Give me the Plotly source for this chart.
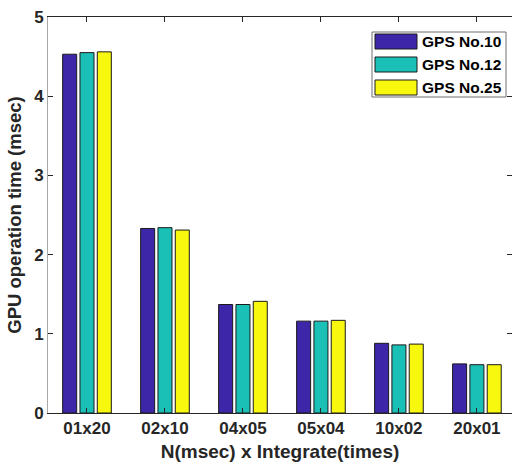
import plotly.graph_objects as go

categories = ["01x20", "02x10", "04x05", "05x04", "10x02", "20x01"]
series_names = ["GPS No.10", "GPS No.12", "GPS No.25"]
gps10 = [4.53, 2.33, 1.37, 1.16, 0.88, 0.62]
gps12 = [4.55, 2.34, 1.37, 1.16, 0.86, 0.61]
gps25 = [4.56, 2.31, 1.41, 1.17, 0.87, 0.61]
y_ticks = [0, 1, 2, 3, 4, 5]
colors = ["#3E26A8", "#1ABFB6", "#F8F80E"]

W, H = 512, 468
L, R, T, B = 48, 0, 17, 55
pw, ph = W - L - R, H - T - B

def px_x(px):
    return (px - L) / pw

def px_y(py):
    return (H - B - py) / ph

FONT = "Liberation Sans, Arial, sans-serif"
TXT = "#262626"

fig = go.Figure()
for name, vals, c in zip(series_names, [gps10, gps12, gps25], colors):
    fig.add_trace(go.Bar(
        x=categories, y=vals, name=name,
        marker=dict(color=c, line=dict(color="#1a1a1a", width=1)),
        showlegend=False,
    ))

# manual legend (MATLAB style, large swatches)
shapes = [dict(type="rect", xref="paper", yref="paper",
               x0=px_x(372), x1=px_x(506), y0=px_y(97), y1=px_y(32),
               line=dict(color="#6e6e6e", width=1), fillcolor="white", layer="above")]
annotations = []
for i, (name, c) in enumerate(zip(series_names, colors)):
    top = 34 + i * 23
    shapes.append(dict(type="rect", xref="paper", yref="paper",
                       x0=px_x(375), x1=px_x(417), y0=px_y(top + 15), y1=px_y(top),
                       line=dict(color="#1a1a1a", width=1), fillcolor=c, layer="above"))
    annotations.append(dict(xref="paper", yref="paper", x=px_x(420), y=px_y(top + 7.5),
                            text=name, showarrow=False, xanchor="left", yanchor="middle",
                            font=dict(family=FONT, size=15.5, color="black", weight="bold")))

fig.update_layout(
    width=W, height=H,
    margin=dict(l=L, r=R, t=T, b=B, pad=0),
    paper_bgcolor="white", plot_bgcolor="white",
    barmode="group", bargap=0.334, bargroupgap=0.19,
    font=dict(family=FONT, color=TXT, weight="bold"),
    shapes=shapes, annotations=annotations,
    showlegend=False,
)
fig.update_xaxes(
    type="category", range=[-0.5, 5.45],
    showline=True, linecolor=TXT, linewidth=1, mirror="ticks",
    ticks="inside", ticklen=5, tickcolor=TXT,
    tickfont=dict(family=FONT, size=17, color=TXT, weight="bold"),
    showgrid=False, zeroline=False, automargin=False,
    title=dict(text="N(msec) x Integrate(times)", standoff=7,
               font=dict(family=FONT, size=19, color=TXT, weight="bold")),
)
fig.update_yaxes(
    range=[0, 5], tickvals=y_ticks,
    showline=True, linecolor="#a8a8a8", linewidth=1, mirror="ticks",
    ticks="inside", ticklen=5, tickcolor=TXT,
    tickfont=dict(family=FONT, size=17, color=TXT, weight="bold"),
    showgrid=False, zeroline=False, automargin=False,
    title=dict(text="GPU operation time (msec)", standoff=7,
               font=dict(family=FONT, size=18.5, color=TXT, weight="bold")),
)

fig.write_html(
    "out.html",
    config={"displayModeBar": False},
    post_script="document.body.style.margin='0';document.body.style.overflow='hidden';",
)
